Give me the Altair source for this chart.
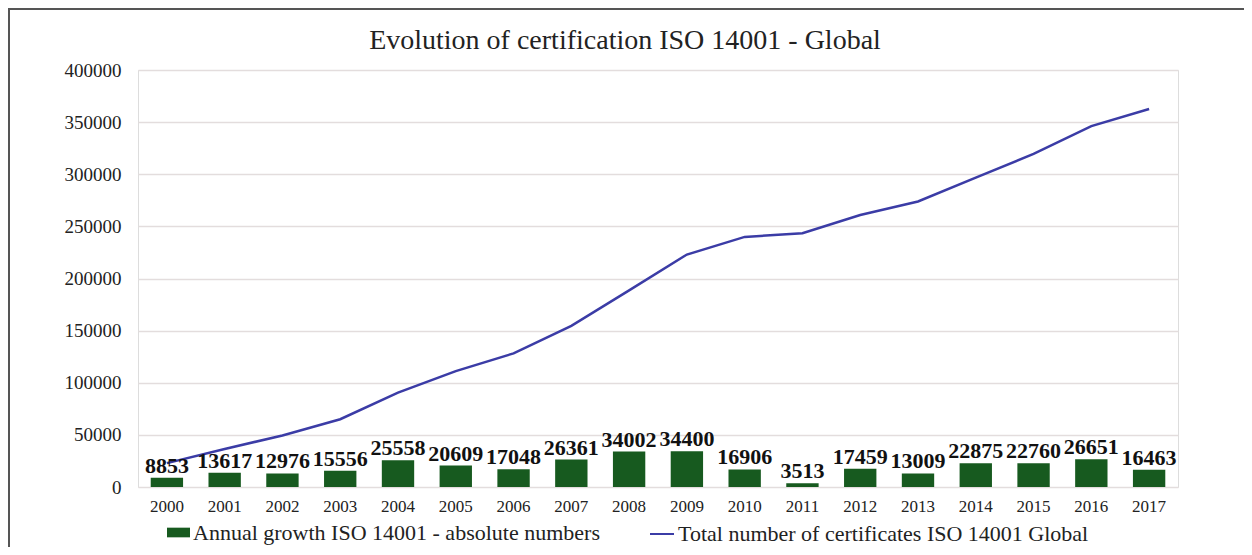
import altair as alt
import pandas as pd

years = [str(y) for y in range(2000, 2018)]
annual_growth = [8853, 13617, 12976, 15556, 25558, 20609, 17048, 26361, 34002,
                 34400, 16906, 3513, 17459, 13009, 22875, 22760, 26651, 16463]
total_certs = [22897, 36464, 49440, 64996, 90554, 111163, 128211, 154572, 188574,
               222974, 239880, 243393, 260852, 273861, 296736, 319496, 346147, 362610]

bar_name = "Annual growth ISO 14001 - absolute numbers"
line_name = "Total number of certificates ISO 14001 Global"

df = pd.DataFrame({
    "year": years,
    "growth": annual_growth,
    "total": total_certs,
    "bar_series": [bar_name] * len(years),
    "line_series": [line_name] * len(years),
})

FONT = "Liberation Serif"
GREEN = "#175a1f"
BLUE = "#3b3ca6"

PAD_L, PAD_T, PAD_R, PAD_B = 130, 62, 66, 60
W, H = 1040, 417

x = alt.X("year:N", title=None, sort=years,
          scale=alt.Scale(paddingInner=0.44, paddingOuter=0.22),
          axis=alt.Axis(labelAngle=0, ticks=False, domain=False, grid=False,
                        labelFont=FONT, labelFontSize=17, labelColor="#222",
                        labelPadding=11))
y_scale = alt.Scale(domain=[0, 400000])
y_axis = alt.Axis(values=list(range(0, 400001, 50000)), ticks=False, domain=False,
                  labelFont=FONT, labelFontSize=19, labelColor="#222", labelPadding=17,
                  gridColor="#e3dddd", gridWidth=1.5, format="d")

base = alt.Chart(df)

bars = base.mark_bar().encode(
    x=x,
    y=alt.Y("growth:Q", title=None, scale=y_scale, axis=y_axis),
    color=alt.Color("bar_series:N", title=None,
                    scale=alt.Scale(domain=[bar_name], range=[GREEN]),
                    legend=alt.Legend(orient="none", legendX=29, legendY=451, padding=0,
                                      symbolType="M-1,-0.42L1,-0.42L1,0.42L-1,0.42Z",
                                      symbolSize=529, symbolStrokeWidth=0,
                                      symbolOpacity=1, labelOffset=3,
                                      labelFont=FONT, labelFontSize=22,
                                      labelColor="#222", labelLimit=600)),
)

line = base.mark_line(strokeWidth=2.5).encode(
    x=x,
    y=alt.Y("total:Q", scale=y_scale),
    stroke=alt.Stroke("line_series:N", title=None,
                      scale=alt.Scale(domain=[line_name], range=[BLUE]),
                      legend=alt.Legend(orient="none", legendX=511, legendY=451, padding=0,
                                        symbolType="stroke", symbolSize=576,
                                        symbolStrokeWidth=2, labelOffset=3,
                                        labelFont=FONT, labelFontSize=22,
                                        labelColor="#222", labelLimit=600)),
)

labels = base.mark_text(dy=-12, font=FONT, fontSize=22, fontWeight="bold",
                        color="#111").encode(
    x=x,
    y=alt.Y("growth:Q", scale=y_scale),
    text=alt.Text("growth:Q", format="d"),
)

# decorative frame: only its top and left edges fall inside the picture
frame = alt.Chart(df).mark_rect(fillOpacity=0, stroke="#555", strokeWidth=2).encode(
    x=alt.value(-PAD_L + 1), x2=alt.value(W + PAD_R + 60),
    y=alt.value(-PAD_T + 1), y2=alt.value(H + PAD_B + 60))

chart = alt.layer(bars, line, labels, frame).resolve_scale(
    color="independent").properties(
    width=W,
    height=H,
    padding={"left": PAD_L, "top": PAD_T, "right": PAD_R, "bottom": PAD_B},
    autosize=alt.AutoSizeParams(type="none"),
    title=alt.TitleParams("Evolution of certification ISO 14001 - Global",
                          font=FONT, fontSize=28, fontWeight="normal", color="#222",
                          anchor="middle", frame="group", dx=-33, offset=-47),
).configure_view(strokeWidth=0).configure(background="white")

chart.save("out.html", embed_options={"renderer": "svg", "actions": False})
